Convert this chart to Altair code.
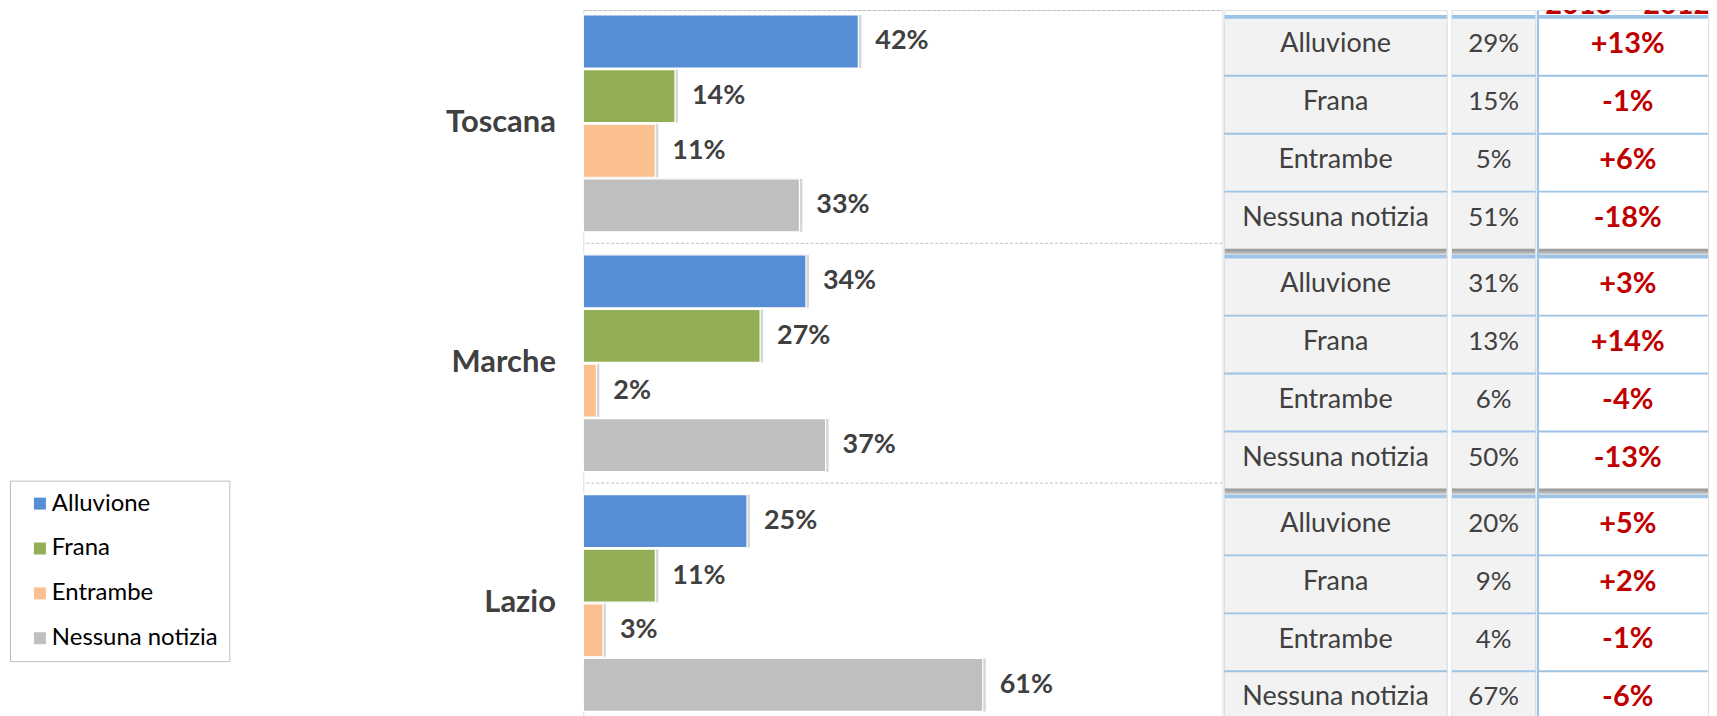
import altair as alt
import pandas as pd

# ---------------- data ----------------
regions = ["Toscana", "Marche", "Lazio"]
categories = ["Alluvione", "Frana", "Entrambe", "Nessuna notizia"]
colors = ["#558ed5", "#93af55", "#fac090", "#bfbfbf"]

share_2013_toscana = [42, 14, 11, 33]
share_2013_marche = [34, 27, 2, 37]
share_2013_lazio = [25, 11, 3, 61]

share_2012_toscana = [29, 15, 5, 51]
share_2012_marche = [31, 13, 6, 50]
share_2012_lazio = [20, 9, 4, 67]

delta_toscana = [13, -1, 6, -18]
delta_marche = [3, 14, -4, -13]
delta_lazio = [5, 2, -1, -6]

header_text = "2013 – 2012"

s2013 = {"Toscana": share_2013_toscana, "Marche": share_2013_marche, "Lazio": share_2013_lazio}
s2012 = {"Toscana": share_2012_toscana, "Marche": share_2012_marche, "Lazio": share_2012_lazio}
dlt = {"Toscana": delta_toscana, "Marche": delta_marche, "Lazio": delta_lazio}

rows = []
for r in regions:
    for i, c in enumerate(categories):
        rows.append({
            "region": r,
            "category": c,
            "v2013": s2013[r][i],
            "v2012": s2012[r][i],
            "delta": dlt[r][i],
        })
df = pd.DataFrame(rows)
df["lab2013"] = df["v2013"].map(lambda v: f"{v}%")
df["lab2012"] = df["v2012"].map(lambda v: f"{v}%")
df["labdelta"] = df["delta"].map(lambda v: f"{v:+d}%")

reg_df = pd.DataFrame({"region": regions})
head_df = pd.DataFrame({"region": [regions[0]], "h": [header_text]})

FONT = "Lato"
H = 720
TXT = "#404040"
LINE_BLUE = "#9dc3e6"

# ---------------- bar panel ----------------
def ybar(**kw):
    return alt.Y(
        "region:N", sort=regions, title=None,
        scale=alt.Scale(paddingInner=0.0956, paddingOuter=0.0447, align=0.23),
        axis=alt.Axis(domain=False, ticks=False, grid=False, labelPadding=28,
                      labelFontSize=31, labelFontWeight="bold", labelColor=TXT,
                      labelFont=FONT, labelLimit=400),
        **kw,
    )

yoff_bar = alt.YOffset("category:N", sort=categories,
                       scale=alt.Scale(paddingInner=0.03, paddingOuter=0))
xbar = alt.X(
    "v2013:Q", title=None,
    scale=alt.Scale(domain=[0, 97.6], nice=False, zero=True),
    axis=alt.Axis(orient="top", labels=False, ticks=False, grid=False, domain=True,
                  domainDash=[3, 2], domainColor="#bfbfbf", domainWidth=1, title=None),
)

base = alt.Chart(df)

separators = alt.Chart(reg_df).mark_rule(
    color="#bfbfbf", strokeDash=[3, 2], strokeWidth=1, yOffset=11.5, clip=True
).encode(y=ybar(bandPosition=1))

shadow = base.mark_bar(color="#000000", opacity=0.16, xOffset=3).encode(
    x=xbar, y=ybar(), yOffset=yoff_bar
)

bars = base.mark_bar(stroke="white", strokeWidth=1.2).encode(
    x=xbar, y=ybar(), yOffset=yoff_bar,
    color=alt.Color(
        "category:N", sort=categories,
        scale=alt.Scale(domain=categories, range=colors),
        legend=alt.Legend(
            title=None, orient="none", legendX=-575, legendY=472,
            fillColor="white", strokeColor="#bfbfbf", padding=11,
            symbolType="square", symbolSize=144, symbolStrokeWidth=0,
            symbolOffset=7, labelOffset=0, rowPadding=21,
            labelFont=FONT, labelFontSize=24, labelColor="#000000", labelLimit=400,
        ),
    ),
)

values = base.mark_text(
    align="left", baseline="middle", dx=17, font=FONT, fontSize=27,
    fontWeight="bold", color=TXT,
).encode(x=xbar, y=ybar(), yOffset=yoff_bar, text="lab2013:N")

bar_panel = alt.layer(separators, shadow, bars, values).properties(width=641, height=H)

# ---------------- table panels ----------------
shadow_grad = alt.Gradient(
    gradient="linear",
    stops=[
        alt.GradientStop(offset=0, color="#8c8c8c"),
        alt.GradientStop(offset=0.965, color="#8c8c8c"),
        alt.GradientStop(offset=0.985, color="#a6a6a6"),
        alt.GradientStop(offset=1, color="#dcdcdc"),
    ],
    x1=0, x2=0, y1=0, y2=1,
)


def table_col(width, text_field, fill, text_color, weight, size, left_line=False,
              header=False, dx=0):
    if left_line:
        ax = alt.Axis(domain=True, domainColor=LINE_BLUE, domainWidth=2, ticks=False,
                      labels=False, grid=False, title=None)
    else:
        ax = None

    def yt(**kw):
        return alt.Y("region:N", sort=regions, title=None,
                     scale=alt.Scale(paddingInner=0.0333, paddingOuter=0.0135, align=0.77),
                     axis=ax, **kw)

    yo = alt.YOffset("category:N", sort=categories,
                     scale=alt.Scale(paddingInner=0, paddingOuter=0))

    layers = [
        alt.Chart(reg_df).mark_rect(fill=shadow_grad, yOffset=8, clip=True).encode(y=yt()),
        base.mark_rect(fill=LINE_BLUE).encode(y=yt(), yOffset=yo),
        base.mark_rect(fill=fill, height=alt.RelativeBandSize(0.968)).encode(y=yt(), yOffset=yo),
        base.mark_text(align="center", baseline="middle", font=FONT, fontSize=size,
                       fontWeight=weight, color=text_color, dx=dx).encode(
            y=yt(), yOffset=yo, text=f"{text_field}:N"),
    ]
    if header:
        layers.append(
            alt.Chart(head_df).mark_text(
                align="center", baseline="alphabetic", dy=-1, dx=dx, clip=True, font=FONT,
                fontSize=29, fontWeight="bold", color="#c00000",
            ).encode(y=yt(bandPosition=0), text="h:N")
        )
    return alt.layer(*layers).properties(width=width, height=H)


col_cat = table_col(223, "category", "#f2f2f2", TXT, "normal", 27)
col_val = table_col(84, "lab2012", "#f2f2f2", TXT, "normal", 26)
col_delta = table_col(171, "labdelta", "#ffffff", "#c00000", "bold", 29,
                      left_line=True, header=True, dx=5)

inner = alt.hconcat(col_cat, col_val, spacing=3).resolve_scale(
    y="independent", yOffset="independent")

chart = (
    alt.hconcat(bar_panel, inner, col_delta, spacing=0)
    .resolve_scale(x="independent", y="independent", yOffset="independent", color="independent")
    .resolve_legend(color="independent")
    .properties(padding={"left": 1, "top": 0, "right": 0, "bottom": 0}, background="white")
    .configure_view(stroke=None)
    .configure(font=FONT)
)

chart.save("out.html", embed_options={"renderer": "svg", "actions": False})
